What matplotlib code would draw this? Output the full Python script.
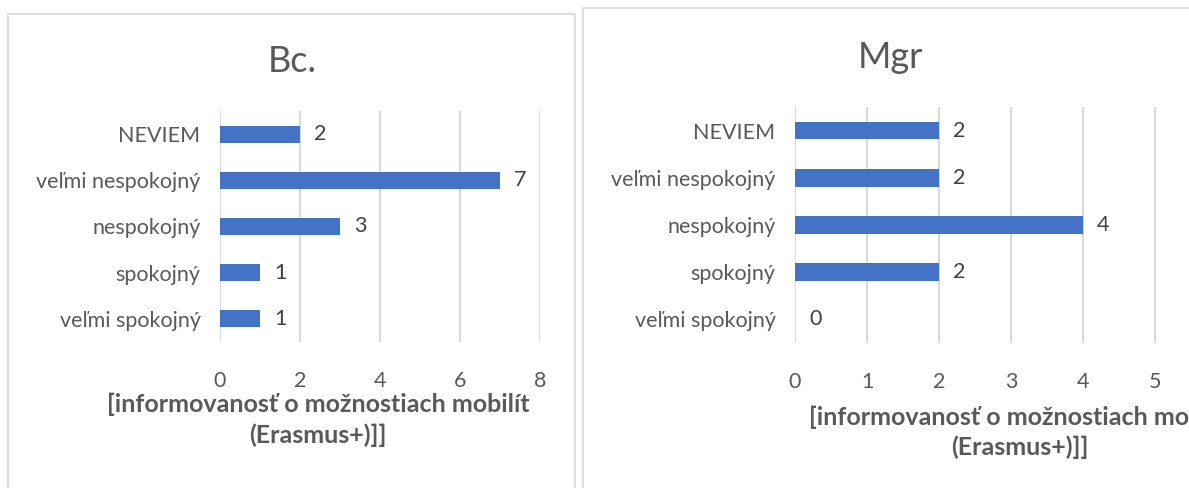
import numpy as np
import matplotlib
matplotlib.use('agg')
import matplotlib.pyplot as plt
from matplotlib.patches import Rectangle

plt.rcParams['font.family'] = ['Lato', 'DejaVu Sans']

# data
kategorie = ['veľmi spokojný', 'spokojný', 'nespokojný', 'veľmi nespokojný', 'NEVIEM']
bc_hodnoty = [1, 1, 3, 7, 2]
mgr_hodnoty = [0, 2, 4, 2, 2]
bc_ticks = [0, 2, 4, 6, 8]
mgr_ticks = [0, 1, 2, 3, 4, 5, 6]
x_nazov = '[informovanosť o možnostiach mobilít\n(Erasmus+)]]'

W, H = 1189, 488
MODRA = '#4472C4'
SIVA = '#595959'
MRIEZKA = '#d9d9d9'


def px_box(x0, y0, x1, y1):
    # pixel box (top-left origin) -> figure fraction rect
    return [x0 / W, 1 - y1 / H, (x1 - x0) / W, (y1 - y0) / H]


def graf(ax, hodnoty, ticks, titul, titul_xy, label_xy):
    y = np.arange(len(kategorie))
    bars = ax.barh(y, hodnoty, height=0.37, color=MODRA, zorder=3)
    ax.bar_label(bars, padding=10, fontsize=15.5, color='#404040')
    ax.set_yticks(y)
    ax.set_yticklabels(kategorie, fontsize=15.5, color=SIVA)
    ax.set_xticks(ticks)
    ax.set_xticklabels([str(t) for t in ticks], fontsize=15.5, color=SIVA)
    ax.set_xlim(ticks[0], ticks[-1])
    ax.set_ylim(-0.5, len(kategorie) - 0.5)
    ax.grid(axis='x', color=MRIEZKA, linewidth=1.5, zorder=0)
    for s in ax.spines.values():
        s.set_visible(False)
    ax.tick_params(length=0, pad=14)
    ax.tick_params(axis='x', pad=21)
    ax.set_xlabel(x_nazov, fontsize=18, fontweight='bold', color=SIVA,
                  linespacing=1.35)
    ax.xaxis.set_label_coords(*label_xy)
    fig.text(titul_xy[0] / W, 1 - titul_xy[1] / H, titul, fontsize=26,
             color=SIVA, ha='center', va='center')


fig = plt.figure(figsize=(W / 100, H / 100), dpi=100)

# panel frames
fig.patches.append(Rectangle((8 / W, -0.1), 567 / W, 1.1 - 14 / H,
                             transform=fig.transFigure, fill=False,
                             edgecolor=MRIEZKA, linewidth=1.2))
fig.patches.append(Rectangle((583 / W, -0.1), 0.6, 1.1 - 8 / H,
                             transform=fig.transFigure, fill=False,
                             edgecolor=MRIEZKA, linewidth=1.2))

ax1 = fig.add_axes(px_box(220, 111, 540, 342))
graf(ax1, bc_hodnoty, bc_ticks, 'Bc.', (292, 62), (0.306, -0.22))

ax2 = fig.add_axes(px_box(795, 107, 1227, 343))
graf(ax2, mgr_hodnoty, mgr_ticks, 'Mgr', (890, 57), (0.521, -0.265))

fig.savefig('out.png', dpi=100)
